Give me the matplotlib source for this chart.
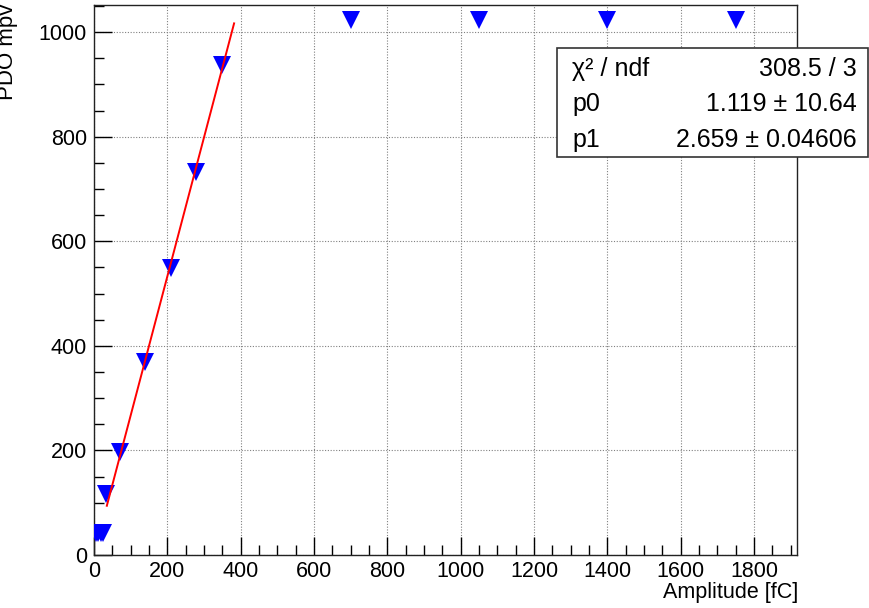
import numpy as np
import matplotlib
matplotlib.use('Agg')
import matplotlib.pyplot as plt
from matplotlib.patches import Rectangle
from matplotlib.ticker import MultipleLocator

plt.rcParams['font.family'] = ['Liberation Sans', 'DejaVu Sans']

# PDO mpv vs injected amplitude
amplitude = [6, 12, 18, 24, 33, 71, 139, 210, 278, 349, 700, 1050, 1400, 1750]
pdo_mpv = [42, 42, 42, 42, 117, 197, 369, 549, 732, 937, 1024, 1024, 1024, 1024]

# linear fit pol1
p0 = 1.119
p1 = 2.659
fit_range = [35, 382]
stats_labels = ['χ² / ndf', 'p0', 'p1']
stats_values = ['308.5 / 3', '1.119 ± 10.64', '2.659 ± 0.04606']

W, H = 869, 608
fig = plt.figure(figsize=(W / 100, H / 100), dpi=100)
ax = fig.add_axes([94 / W, (H - 555) / H, (797 - 94) / W, (555 - 5) / H])

ax.plot(amplitude, pdo_mpv, 'v', color='#0000ff', markersize=13, markeredgewidth=0, zorder=3)
xf = np.linspace(fit_range[0], fit_range[1], 50)
ax.plot(xf, p0 + p1 * xf, color='#ff0000', lw=1.4, zorder=4)

ax.set_xlim(0, 1917)
ax.set_ylim(0, 1052)
ax.xaxis.set_major_locator(MultipleLocator(200))
ax.xaxis.set_minor_locator(MultipleLocator(50))
ax.yaxis.set_major_locator(MultipleLocator(200))
ax.yaxis.set_minor_locator(MultipleLocator(50))
ax.tick_params(which='both', direction='in', top=False, right=False, labelsize=15.5, colors='black')
ax.tick_params(which='major', length=13, width=1)
ax.tick_params(which='minor', length=7, width=1)
ax.tick_params(axis='x', pad=4)
ax.tick_params(axis='y', pad=5)
ax.grid(True, which='major', color='#808080', linestyle=(0, (1, 1.5)), lw=0.8)
ax.set_axisbelow(True)
for s in ax.spines.values():
    s.set_linewidth(1)
    s.set_color('#222222')

fig.text(798 / W, 1 - 598 / H, 'Amplitude [fC]', ha='right', va='baseline', fontsize=15.5)
fig.text(8 / W, 1 - 4 / H, 'PDO mpv', rotation=90, ha='center', va='top', fontsize=16)

# stats box
fig.patches.append(Rectangle((557 / W, 1 - 157 / H), (868 - 557) / W, (157 - 48) / H,
                             transform=fig.transFigure, facecolor='white',
                             edgecolor='#333333', lw=1.2, zorder=5))
rows_y = [69, 104, 140]
for lab, val, yy in zip(stats_labels, stats_values, rows_y):
    fig.text(572 / W, 1 - yy / H, lab, ha='left', va='center', fontsize=18, zorder=6)
    fig.text(857 / W, 1 - yy / H, val, ha='right', va='center', fontsize=18, zorder=6)

fig.savefig('out.png', dpi=100)
